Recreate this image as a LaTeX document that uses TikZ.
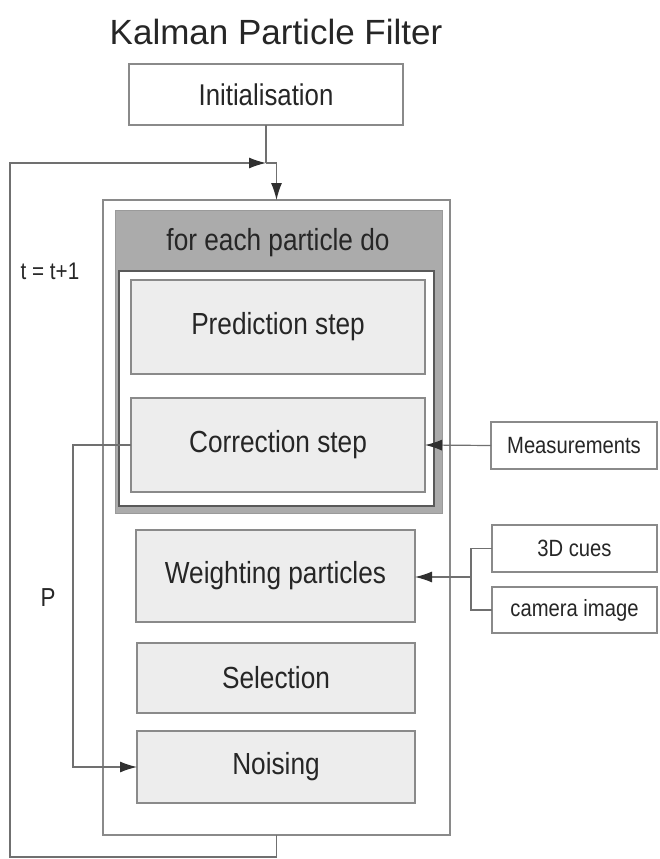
\documentclass[tikz,border=0pt]{standalone}
\usepackage{fontspec}
\setmainfont{Liberation Sans}
\newfontfamily\narrowfont{Liberation Sans}[FakeStretch=0.86]
\usetikzlibrary{arrows.meta}
\definecolor{boxfill}{HTML}{EDEDED}
\definecolor{boxline}{HTML}{8A8A8A}
\definecolor{txt}{HTML}{262626}
\definecolor{hdr}{HTML}{ABABAB}
\definecolor{hdrline}{HTML}{9A9A9A}
\definecolor{conn}{HTML}{707070}
\definecolor{tip}{HTML}{303030}
\begin{document}
\begin{tikzpicture}[x=1pt,y=-1pt,
  every node/.style={inner sep=0pt,outer sep=0pt,text=txt},
  mainfont/.style={font=\narrowfont\fontsize{30.5}{34}\selectfont},
  stepbox/.style={draw=boxline,fill=boxfill,line width=1.2pt,rectangle,mainfont},
  inbox/.style={draw=boxline,fill=white,line width=1.2pt,rectangle,font=\narrowfont\fontsize{23.5}{26}\selectfont},
  conn/.style={draw=conn,line width=1.2pt},
  arr/.style={conn,-{Latex[length=17pt,width=11pt,fill=tip,color=tip]}},
  lbl/.style={font=\narrowfont\fontsize{24}{26}\selectfont}]
\useasboundingbox (0,0) rectangle (659,859);
\fill[white] (0,0) rectangle (659,859);

\node (title) at (276,32) {\fontsize{35}{40}\selectfont Kalman Particle Filter};
\node[draw=boxline,fill=white,line width=1.2pt,minimum width=274pt,minimum height=61pt,font=\narrowfont\fontsize{30}{34}\selectfont] (init) at (266,94.5) {Initialisation};

\node[draw=boxline,fill=white,line width=1.2pt,minimum width=347pt,minimum height=635pt] (outer) at (276.5,517.5) {};
\node[draw=hdrline,fill=hdr,line width=1pt,minimum width=327pt,minimum height=303pt] (loopbox) at (278.5,361.5) {};
\node[mainfont] (hdrtext) at (278,243) {for each particle do};
\node[draw=black!65,fill=white,line width=2pt,minimum width=315pt,minimum height=235pt] (inner) at (276.5,388.5) {};

\node[stepbox,minimum width=294pt,minimum height=94pt] (pred) at (278,327) {Prediction step};
\node[stepbox,minimum width=294pt,minimum height=94pt] (corr) at (278,445) {Correction step};
\node[stepbox,minimum width=279pt,minimum height=92pt] (weight) at (275.5,576) {Weighting particles};
\node[stepbox,minimum width=278pt,minimum height=70pt] (sel) at (276,678) {Selection};
\node[stepbox,minimum width=278pt,minimum height=72pt] (noise) at (276,767) {Noising};

\node[inbox,minimum width=166pt,minimum height=47pt] (meas) at (574,445.5) {Measurements};
\node[inbox,minimum width=165pt,minimum height=47pt] (cues) at (574.5,548.5) {3D cues};
\node[inbox,minimum width=165pt,minimum height=46pt] (cam) at (574.5,610) {camera image};

\node[lbl] (tlbl) at (50,271) {t = t+1};
\node[font=\narrowfont\fontsize{26}{28}\selectfont] (plbl) at (48,598) {P};

% connectors
\coordinate (j1) at (266,163);
\draw[conn] (init.south) -- (j1);
\draw[arr] (outer.south) -- (276.5,857) -- (10,857) -- (10,163) -- (j1);
\draw[arr] (j1) -- (j1 -| outer.north) -- (outer.north);
\draw[arr] (meas.west) -- (corr.east);
\coordinate (b) at (471,577);
\draw[conn] (cues.west) -- (cues.west -| b) -- (cam.west -| b) -- (cam.west);
\draw[arr] (b) -- (b -| weight.east);
\draw[arr] (corr.west) -- (73,445) |- (noise.west);
\end{tikzpicture}
\end{document}
